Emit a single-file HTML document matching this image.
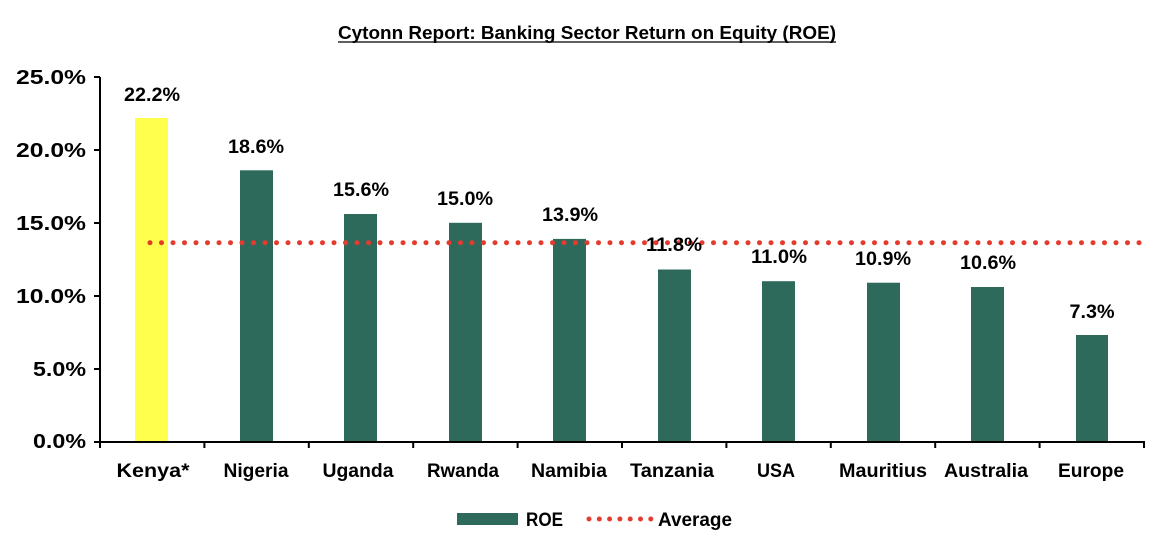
<!DOCTYPE html>
<html><head><meta charset="utf-8"><style>
html,body{margin:0;padding:0;background:#fff;}
svg{display:block;font-family:"Liberation Sans",sans-serif;font-weight:bold;}
</style></head><body>
<svg width="1172" height="544" viewBox="0 0 1172 544" xmlns="http://www.w3.org/2000/svg">
<text x="587" y="39" font-size="18" text-anchor="middle" textLength="498" lengthAdjust="spacingAndGlyphs">Cytonn Report: Banking Sector Return on Equity (ROE)</text>
<line x1="338" y1="42" x2="836" y2="42" stroke="#000" stroke-width="1.3"/>
<g font-size="20" text-anchor="end">
<text x="86" y="84" textLength="70" lengthAdjust="spacingAndGlyphs">25.0%</text>
<text x="86" y="157" textLength="70" lengthAdjust="spacingAndGlyphs">20.0%</text>
<text x="86" y="230" textLength="70" lengthAdjust="spacingAndGlyphs">15.0%</text>
<text x="86" y="303" textLength="70" lengthAdjust="spacingAndGlyphs">10.0%</text>
<text x="86" y="376" textLength="53" lengthAdjust="spacingAndGlyphs">5.0%</text>
<text x="86" y="448" textLength="53" lengthAdjust="spacingAndGlyphs">0.0%</text>
</g>
<g stroke="#000" stroke-width="2">
<line x1="100" y1="77" x2="100" y2="442"/>
<line x1="94" y1="77" x2="100" y2="77"/>
<line x1="94" y1="150" x2="100" y2="150"/>
<line x1="94" y1="223" x2="100" y2="223"/>
<line x1="94" y1="296" x2="100" y2="296"/>
<line x1="94" y1="369" x2="100" y2="369"/>
<line x1="94" y1="442" x2="1145" y2="442"/>
<line x1="100" y1="442" x2="100" y2="448"/><line x1="204.4" y1="442" x2="204.4" y2="448"/><line x1="308.8" y1="442" x2="308.8" y2="448"/><line x1="413.2" y1="442" x2="413.2" y2="448"/><line x1="517.6" y1="442" x2="517.6" y2="448"/><line x1="622" y1="442" x2="622" y2="448"/><line x1="726.4" y1="442" x2="726.4" y2="448"/><line x1="830.8" y1="442" x2="830.8" y2="448"/><line x1="935.2" y1="442" x2="935.2" y2="448"/><line x1="1039.6" y1="442" x2="1039.6" y2="448"/><line x1="1144" y1="442" x2="1144" y2="448"/>
</g>
<rect x="135" y="118" width="33" height="323" fill="#ffff4d"/>
<g fill="#2d6a5b">
<rect x="240" y="170.3" width="33" height="270.7"/>
<rect x="344" y="214" width="33" height="227"/>
<rect x="449" y="222.8" width="33" height="218.2"/>
<rect x="553" y="238.9" width="33" height="202.1"/>
<rect x="658" y="269.5" width="33" height="171.5"/>
<rect x="762" y="281.2" width="33" height="159.8"/>
<rect x="867" y="282.7" width="33" height="158.3"/>
<rect x="971" y="287" width="33" height="154"/>
<rect x="1076" y="335" width="32" height="106"/>
</g>
<line x1="150" y1="242.7" x2="1142" y2="242.7" stroke="#e53a2e" stroke-width="5" stroke-linecap="round" stroke-dasharray="0 11.5"/>
<g font-size="19" text-anchor="middle">
<text x="152" y="101" textLength="56" lengthAdjust="spacingAndGlyphs">22.2%</text>
<text x="256" y="153" textLength="56" lengthAdjust="spacingAndGlyphs">18.6%</text>
<text x="361" y="196" textLength="56" lengthAdjust="spacingAndGlyphs">15.6%</text>
<text x="465" y="205" textLength="56" lengthAdjust="spacingAndGlyphs">15.0%</text>
<text x="570" y="221" textLength="56" lengthAdjust="spacingAndGlyphs">13.9%</text>
<text x="674" y="251" textLength="56" lengthAdjust="spacingAndGlyphs">11.8%</text>
<text x="779" y="263" textLength="56" lengthAdjust="spacingAndGlyphs">11.0%</text>
<text x="883" y="265" textLength="56" lengthAdjust="spacingAndGlyphs">10.9%</text>
<text x="988" y="269" textLength="56" lengthAdjust="spacingAndGlyphs">10.6%</text>
<text x="1092" y="318" textLength="45" lengthAdjust="spacingAndGlyphs">7.3%</text>
</g>
<g font-size="19" text-anchor="middle">
<text x="153" y="477" textLength="73" lengthAdjust="spacingAndGlyphs">Kenya*</text>
<text x="256" y="477" textLength="65" lengthAdjust="spacingAndGlyphs">Nigeria</text>
<text x="358" y="477" textLength="71" lengthAdjust="spacingAndGlyphs">Uganda</text>
<text x="463" y="477" textLength="72" lengthAdjust="spacingAndGlyphs">Rwanda</text>
<text x="569" y="477" textLength="76" lengthAdjust="spacingAndGlyphs">Namibia</text>
<text x="672" y="477" textLength="84" lengthAdjust="spacingAndGlyphs">Tanzania</text>
<text x="776" y="477" textLength="38" lengthAdjust="spacingAndGlyphs">USA</text>
<text x="883" y="477" textLength="88" lengthAdjust="spacingAndGlyphs">Mauritius</text>
<text x="986" y="477" textLength="84" lengthAdjust="spacingAndGlyphs">Australia</text>
<text x="1091" y="477" textLength="66" lengthAdjust="spacingAndGlyphs">Europe</text>
</g>
<rect x="457" y="513" width="61" height="12" fill="#2d6a5b"/>
<text x="526" y="526" font-size="19" textLength="37" lengthAdjust="spacingAndGlyphs">ROE</text>
<line x1="589" y1="519" x2="651" y2="519" stroke="#e53a2e" stroke-width="5" stroke-linecap="round" stroke-dasharray="0 10.3"/>
<text x="658" y="526" font-size="19" textLength="74" lengthAdjust="spacingAndGlyphs">Average</text>
</svg>
</body></html>
